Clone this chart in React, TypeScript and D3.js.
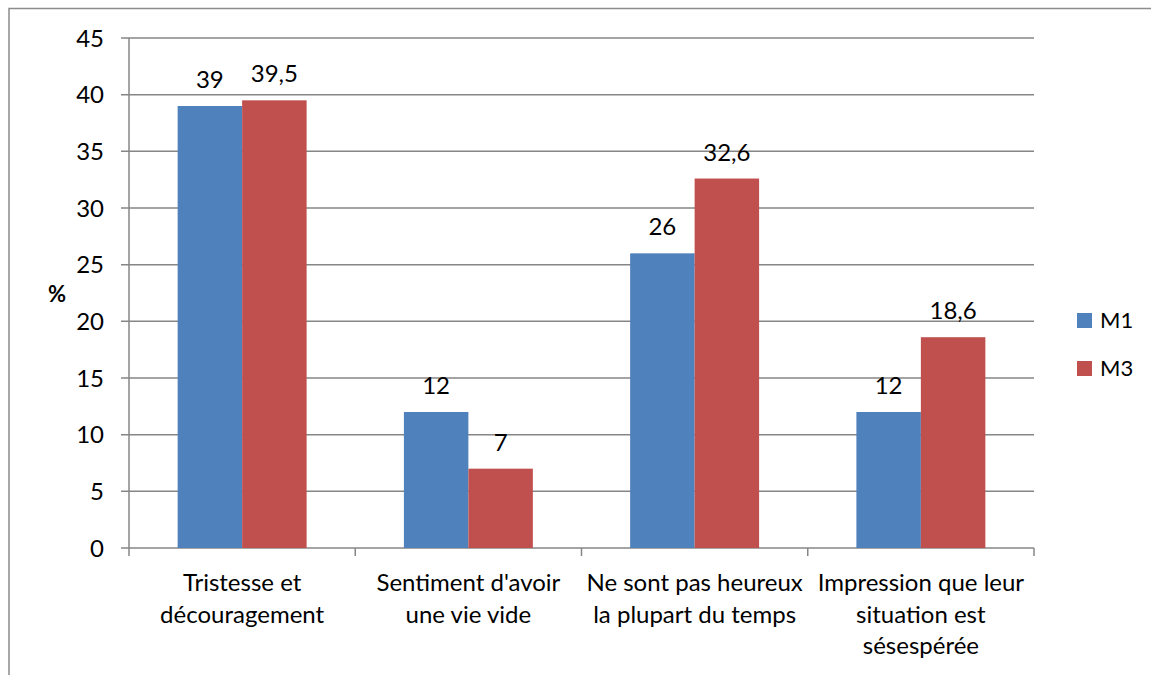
import React from "react";
import * as d3 from "d3";

const categories: string[][] = [
  ["Tristesse et", "découragement"],
  ["Sentiment d'avoir", "une vie vide"],
  ["Ne sont pas heureux", "la plupart du temps"],
  ["Impression que leur", "situation est", "sésespérée"],
];
const seriesNames = ["M1", "M3"];
const m1Values = [39, 12, 26, 12];
const m3Values = [39.5, 7, 32.6, 18.6];
const yTicks = [0, 5, 10, 15, 20, 25, 30, 35, 40, 45];
const colors = ["#4F81BD", "#C0504D"];

const W = 1151;
const H = 675;
const left = 129;
const right = 1034;
const top = 38;
const bottom = 548;
const FONT = "Lato, 'Open Sans', sans-serif";
const FS = 24;

export default function App() {
  const x = d3.scaleBand<number>().domain(d3.range(categories.length)).range([left, right]).paddingInner(0).paddingOuter(0);
  const y = d3.scaleLinear().domain([0, 45]).range([bottom, top]);
  const groupFrac = 0.57;
  const inner = d3
    .scaleBand<number>()
    .domain([0, 1])
    .range([0, x.bandwidth() * groupFrac]);
  const groupOffset = (x.bandwidth() * (1 - groupFrac)) / 2;
  const series = [m1Values, m3Values];
  const fmt = (v: number) => String(v).replace(".", ",");
  const gridColor = "#868686";

  return (
    <svg width={W} height={H} style={{ position: "absolute", left: 0, top: 0, background: "#fff" }} fontFamily={FONT}>
      <rect x={9} y={8.5} width={W + 20} height={H + 20} fill="none" stroke="#8c8c8c" strokeWidth={1.5} />
      {yTicks.map((t) => (
        <g key={t}>
          <line x1={left - 8} x2={right} y1={y(t)} y2={y(t)} stroke={gridColor} strokeWidth={1.5} />
          <text x={104} y={y(t) + 8.5} textAnchor="end" fontSize={FS} fill="#000">
            {t}
          </text>
        </g>
      ))}
      <line x1={left} x2={left} y1={top} y2={bottom} stroke={gridColor} strokeWidth={1.5} />
      {d3.range(categories.length + 1).map((i) => {
        const xx = i < categories.length ? x(i)! : right;
        return <line key={i} x1={xx} x2={xx} y1={bottom} y2={bottom + 8} stroke={gridColor} strokeWidth={1.5} />;
      })}
      {categories.map((c, i) =>
        series.map((vals, s) => {
          const bx = x(i)! + groupOffset + inner(s)!;
          const by = y(vals[i]);
          return (
            <g key={`${i}-${s}`}>
              <rect x={bx} y={by} width={inner.bandwidth()} height={bottom - by} fill={colors[s]} />
              <text x={bx + inner.bandwidth() / 2} y={by - 18} textAnchor="middle" fontSize={FS} fill="#000">
                {fmt(vals[i])}
              </text>
            </g>
          );
        })
      )}
      {categories.map((c, i) => (
        <text key={i} x={x(i)! + x.bandwidth() / 2} y={591} textAnchor="middle" fontSize={FS} fill="#000">
          {c.map((line, j) => (
            <tspan key={j} x={x(i)! + x.bandwidth() / 2} dy={j === 0 ? 0 : 31.5}>
              {line}
            </tspan>
          ))}
        </text>
      ))}
      <text x={57} y={302} textAnchor="middle" fontSize={22} fontWeight="bold" fill="#000">
        %
      </text>
      {seriesNames.map((n, i) => (
        <g key={n}>
          <rect x={1077} y={313 + i * 48} width={15} height={15} fill={colors[i]} />
          <text x={1100} y={328 + i * 48} fontSize={22} fill="#000">
            {n}
          </text>
        </g>
      ))}
    </svg>
  );
}
